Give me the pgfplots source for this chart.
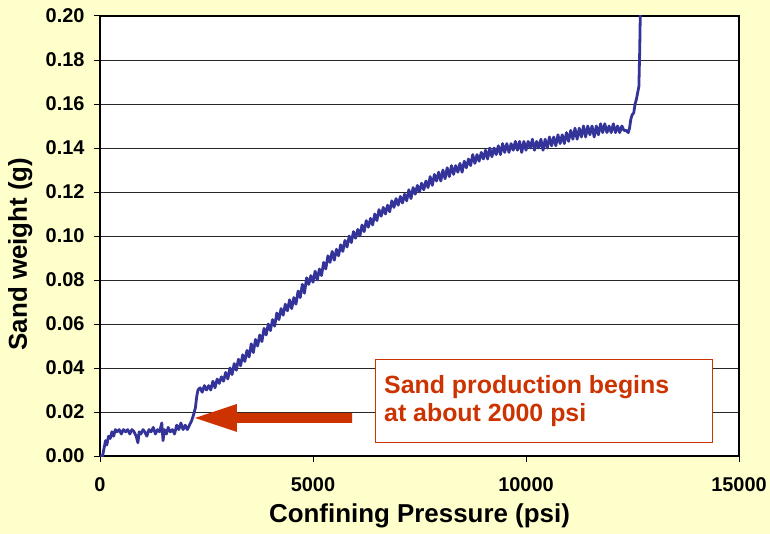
\documentclass[border=0pt]{standalone}
\usepackage{pgfplots}
\usepackage{pgfplotstable}
\pgfplotsset{compat=1.18}
\usepackage{fontspec}
\setmainfont{Liberation Sans}
\definecolor{bgyellow}{HTML}{FFFFCC}
\definecolor{linecol}{HTML}{333399}
\definecolor{redann}{HTML}{CC3300}
\pgfplotstableread{
x y
0 0.000
60 0.000
100 0.004
130 0.007
160 0.005
200 0.009
240 0.008
280 0.011
320 0.009
360 0.012
400 0.011
450 0.012
500 0.010
550 0.012
600 0.011
650 0.012
700 0.010
750 0.012
800 0.011
850 0.009
890 0.006
920 0.011
960 0.010
1010 0.012
1050 0.011
1100 0.009
1150 0.012
1200 0.011
1250 0.013
1300 0.010
1350 0.012
1400 0.011
1450 0.015
1480 0.007
1510 0.012
1560 0.010
1600 0.013
1650 0.011
1700 0.012
1750 0.010
1800 0.014
1850 0.012
1900 0.015
1950 0.012
2000 0.014
2050 0.012
2100 0.014
2150 0.016
2200 0.019
2240 0.022
2270 0.027
2300 0.030
2350 0.031
2400 0.029
2450 0.032
2500 0.030
2550 0.032
2600 0.030
2650 0.034
2700 0.031
2750 0.035
2800 0.033
2850 0.036
2900 0.034
2950 0.038
3000 0.035
3050 0.040
3100 0.037
3150 0.042
3200 0.039
3250 0.044
3300 0.041
3350 0.046
3400 0.043
3450 0.048
3500 0.045
3550 0.051
3600 0.047
3650 0.053
3700 0.050
3750 0.055
3800 0.052
3850 0.058
3900 0.055
3950 0.060
4000 0.057
4050 0.062
4100 0.059
4150 0.065
4200 0.062
4250 0.067
4300 0.064
4350 0.069
4400 0.066
4450 0.071
4500 0.067
4550 0.072
4600 0.069
4650 0.075
4700 0.072
4750 0.078
4800 0.074
4850 0.081
4900 0.078
4950 0.082
5000 0.079
5050 0.084
5100 0.080
5150 0.085
5200 0.082
5250 0.088
5300 0.085
5350 0.091
5400 0.088
5450 0.093
5500 0.089
5550 0.094
5600 0.091
5650 0.096
5700 0.093
5750 0.098
5800 0.095
5850 0.100
5900 0.097
5950 0.102
6000 0.099
6050 0.103
6100 0.100
6150 0.105
6200 0.102
6250 0.107
6300 0.104
6350 0.108
6400 0.105
6450 0.110
6500 0.107
6550 0.112
6600 0.109
6650 0.113
6700 0.110
6750 0.114
6800 0.111
6850 0.116
6900 0.113
6950 0.117
7000 0.114
7050 0.118
7100 0.115
7150 0.119
7200 0.116
7250 0.121
7300 0.117
7350 0.122
7400 0.119
7450 0.123
7500 0.120
7550 0.124
7600 0.121
7650 0.125
7700 0.122
7750 0.127
7800 0.123
7850 0.128
7900 0.125
7950 0.129
8000 0.125
8050 0.130
8100 0.126
8150 0.131
8200 0.127
8250 0.132
8300 0.128
8350 0.132
8400 0.129
8450 0.133
8500 0.129
8550 0.134
8600 0.131
8650 0.135
8700 0.132
8750 0.137
8800 0.133
8850 0.137
8900 0.134
8950 0.138
9000 0.135
9050 0.139
9100 0.135
9150 0.140
9200 0.136
9250 0.140
9300 0.137
9350 0.141
9400 0.137
9450 0.142
9500 0.138
9550 0.142
9600 0.138
9650 0.142
9700 0.139
9750 0.143
9800 0.139
9850 0.143
9900 0.138
9950 0.143
10000 0.139
10050 0.143
10100 0.140
10150 0.144
10200 0.139
10250 0.143
10300 0.140
10350 0.144
10400 0.139
10450 0.144
10500 0.140
10550 0.145
10600 0.141
10650 0.145
10700 0.141
10750 0.146
10800 0.142
10850 0.146
10900 0.142
10950 0.147
11000 0.143
11050 0.148
11100 0.144
11150 0.149
11200 0.144
11250 0.149
11300 0.145
11350 0.150
11400 0.145
11450 0.150
11500 0.146
11550 0.150
11600 0.145
11650 0.150
11700 0.146
11750 0.151
11800 0.147
11850 0.151
11900 0.147
11950 0.150
12000 0.147
12050 0.151
12100 0.147
12150 0.150
12200 0.147
12250 0.150
12300 0.148
12350 0.148
12400 0.147
12430 0.149
12460 0.153
12490 0.155
12530 0.156
12560 0.160
12590 0.162
12620 0.165
12650 0.168
12670 0.185
12690 0.210
}\sanddata
\begin{document}
\begin{tikzpicture}
\path[use as bounding box, fill=bgyellow] (-100bp,-78bp) rectangle (670bp,456bp);
\begin{axis}[
  at={(0,0)}, anchor=south west,
  scale only axis, width=639bp, height=440bp,
  xmin=0, xmax=15000, ymin=0, ymax=0.2,
  xtick={0,5000,10000,15000},
  ytick={0,0.02,0.04,0.06,0.08,0.1,0.12,0.14,0.16,0.18,0.2},
  ymajorgrids, grid style={black!85, line width=0.9pt},
  axis background/.style={fill=white},
  axis line style={line width=1.6pt},
  tick align=outside, xtick pos=bottom, ytick pos=left,
  major tick length=6bp,
  tick style={black, line width=1pt},
  /pgf/number format/assume math mode=true,
  ticklabel style={font=\bfseries\fontsize{20}{20}\selectfont},
  yticklabel style={xshift=-6bp, /pgf/number format/.cd, fixed, fixed zerofill, precision=2},
  xticklabel style={yshift=-12bp, /pgf/number format/1000 sep={}},
  scaled y ticks=false, scaled x ticks=false,
  xlabel={Confining Pressure (psi)},
  ylabel={Sand weight (g)},
  label style={font=\bfseries\fontsize{26}{26}\selectfont},
  xlabel style={at={(axis description cs:0.5,-0.136)}, anchor=center},
  ylabel style={at={(axis description cs:-0.125,0.459)}, anchor=center},
]
\addplot[linecol, line width=2.8pt, line join=round] table[x=x, y=y] {\sanddata};
\draw[redann, line width=0.8pt, fill=white] (axis cs:6455,0.0064) rectangle (axis cs:14366,0.0441);
\node[anchor=north west, align=left, text=redann, inner sep=0pt,
      font=\bfseries\fontsize{25}{28}\selectfont]
  at (axis cs:6666,0.0368) {Sand production begins\\at about 2000 psi};
\fill[redann] (axis cs:2230,0.0173) -- ++(42bp,14bp) -- ++(0,-9bp) -- ++(115bp,0)
  -- ++(0,-10bp) -- ++(-115bp,0) -- ++(0,-9bp) -- cycle;
\end{axis}
\end{tikzpicture}
\end{document}
